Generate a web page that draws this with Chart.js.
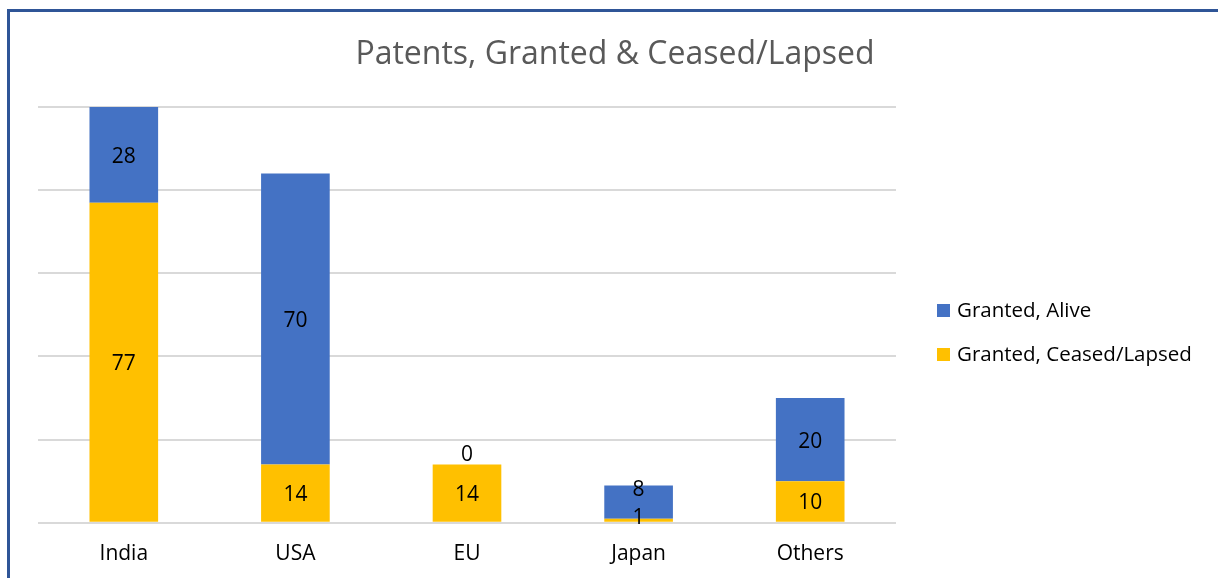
<!DOCTYPE html>
<html>
<head>
<meta charset="utf-8">
<script src="https://cdn.jsdelivr.net/npm/chart.js@4/dist/chart.umd.min.js"></script>
<style>
  html, body { margin: 0; padding: 0; background: #fff; }
  #wrap { width: 1218px; height: 578px; position: relative; }
</style>
</head>
<body>
<div id="wrap"><canvas id="grafico" width="1218" height="578"></canvas></div>
<script>
const paises = ["India", "USA", "EU", "Japan", "Others"];
const vivos = [28, 70, 0, 8, 20];        // Granted, Alive
const caducados = [77, 14, 14, 1, 10];   // Granted, Ceased/Lapsed
const ejeY = [0, 20, 40, 60, 80, 100];
const titulo = "Patents, Granted & Ceased/Lapsed";

const fuente = "'Open Sans', 'Noto Sans', sans-serif";

// marco azul de arriba e izquierda + titulo
const marco = {
  id: "marco",
  beforeDraw(chart) {
    const ctx = chart.ctx;
    ctx.save();
    ctx.fillStyle = "#2F5597";
    ctx.fillRect(7, 9, chart.width - 7, 3);
    ctx.fillRect(7, 9, 3, chart.height - 9);
    ctx.font = "32px " + fuente;
    ctx.fillStyle = "#595959";
    ctx.textAlign = "center";
    ctx.textBaseline = "middle";
    ctx.fillText(titulo, 615, 55);
    ctx.restore();
  }
};

// etiquetas de valor dentro de las barras
const etiquetas = {
  id: "etiquetas",
  afterDatasetsDraw(chart) {
    const ctx = chart.ctx;
    const area = chart.chartArea;
    ctx.save();
    ctx.font = "21px " + fuente;
    ctx.fillStyle = "#000";
    ctx.textAlign = "center";
    ctx.textBaseline = "middle";
    const ultimos = {};
    // primero la serie de abajo y luego la de arriba
    [0, 1].forEach(d => {
      const meta = chart.getDatasetMeta(d);
      meta.data.forEach((bar, i) => {
        const v = chart.data.datasets[d].data[i];
        let y;
        if (v === 0) {
          y = bar.base - 12;
        } else {
          const top = Math.max(bar.y, area.top);
          y = (top + bar.base) / 2;
          y = Math.min(y, area.bottom - 7);
          if (ultimos[i] !== undefined && ultimos[i] - y < 28) y = ultimos[i] - 28;
        }
        ultimos[i] = y;
        ctx.fillText(String(v), bar.x, y + 2);
      });
    });
    ctx.restore();
  }
};

// leyenda a la derecha (la serie de arriba primero)
const leyenda = {
  id: "leyenda",
  afterDraw(chart) {
    const ctx = chart.ctx;
    ctx.save();
    ctx.font = "20.5px " + fuente;
    ctx.textBaseline = "middle";
    ctx.textAlign = "left";
    const ds = chart.data.datasets.slice().reverse();
    ds.forEach((d, k) => {
      const y = 310 + k * 44;
      ctx.fillStyle = d.backgroundColor;
      ctx.fillRect(937, y - 6, 13, 13);
      ctx.fillStyle = "#000";
      ctx.fillText(d.label, 957, y + 1);
    });
    ctx.restore();
  }
};

const chart = new Chart(document.getElementById("grafico"), {
  type: "bar",
  data: {
    labels: paises,
    datasets: [
      { label: "Granted, Ceased/Lapsed", data: caducados, backgroundColor: "#FFC000" },
      { label: "Granted, Alive", data: vivos, backgroundColor: "#4472C4" }
    ]
  },
  options: {
    responsive: false,
    animation: false,
    devicePixelRatio: 1,
    layout: { padding: { left: 38, right: 322, top: 107, bottom: 0 } },
    datasets: { bar: { categoryPercentage: 1, barPercentage: 0.4 } },
    plugins: {
      legend: { display: false },
      tooltip: { enabled: false },
      title: { display: false }
    },
    scales: {
      x: {
        stacked: true,
        grid: { display: false },
        border: { display: false },
        ticks: { color: "#000", font: { family: fuente, size: 21 }, padding: 11 }
      },
      y: {
        stacked: true,
        min: ejeY[0],
        max: ejeY[ejeY.length - 1],
        afterBuildTicks: axis => { axis.ticks = ejeY.map(v => ({ value: v })); },
        ticks: { display: false },
        grid: { color: "#D9D9D9", lineWidth: 2, drawTicks: false },
        border: { display: false }
      }
    }
  },
  plugins: [marco, etiquetas, leyenda]
});
</script>
</body>
</html>
